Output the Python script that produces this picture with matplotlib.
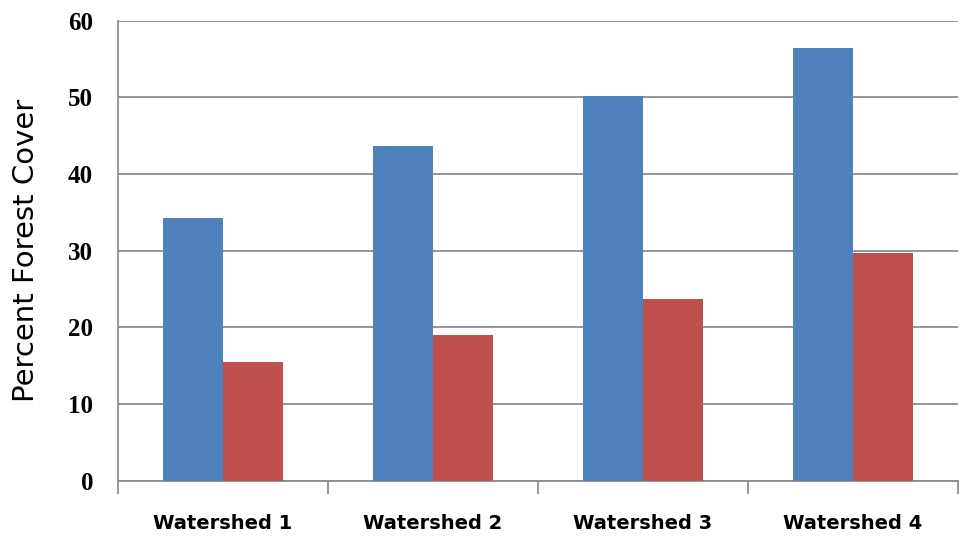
import numpy as np
import matplotlib.pyplot as plt
from matplotlib.ticker import FixedLocator

watersheds = ['Watershed 1', 'Watershed 2', 'Watershed 3', 'Watershed 4']
series_a = [34.2, 43.6, 50.2, 56.4]
series_b = [15.5, 19.0, 23.7, 29.7]

blue = '#4F81BD'
red = '#C0504D'
grid_c = '#8C8C8C'

fig = plt.figure(figsize=(9.61, 5.38), dpi=100)
ax = fig.add_axes([118 / 961, 1 - 480.5 / 538, 840 / 961, (480.5 - 20.5) / 538])

x = np.arange(len(watersheds))
w = 0.286
ax.bar(x - w / 2, series_a, width=w, color=blue, zorder=3)
ax.bar(x + w / 2, series_b, width=w, color=red, zorder=3)

ax.set_xlim(-0.5, len(watersheds) - 0.5)
ax.set_ylim(0, 60)
ax.set_yticks(range(0, 61, 10))
ax.yaxis.grid(True, color=grid_c, lw=1.3, zorder=0)
ax.set_axisbelow(True)

# category labels sit between the boundary ticks
ax.set_xticks(x)
ax.set_xticklabels(watersheds, fontsize=14, fontweight='bold', family='DejaVu Sans')
ax.tick_params(axis='x', which='major', length=0, pad=24)
ax.xaxis.set_minor_locator(FixedLocator(np.arange(-0.5, len(watersheds), 1)))
ax.tick_params(axis='x', which='minor', length=9, width=1.3, color=grid_c, direction='out')

ax.tick_params(axis='y', length=0, pad=18)
for lab in ax.get_yticklabels():
    lab.set_fontfamily('Liberation Serif')
    lab.set_fontweight('bold')
    lab.set_fontsize(18)

for s in ['top', 'right']:
    ax.spines[s].set_visible(False)
for s in ['left', 'bottom']:
    ax.spines[s].set_color(grid_c)
    ax.spines[s].set_linewidth(1.3)

ax.set_ylabel('Percent Forest Cover', fontsize=21)
ax.yaxis.set_label_coords(-0.093, 0.5)

fig.savefig('out.png', dpi=100)
